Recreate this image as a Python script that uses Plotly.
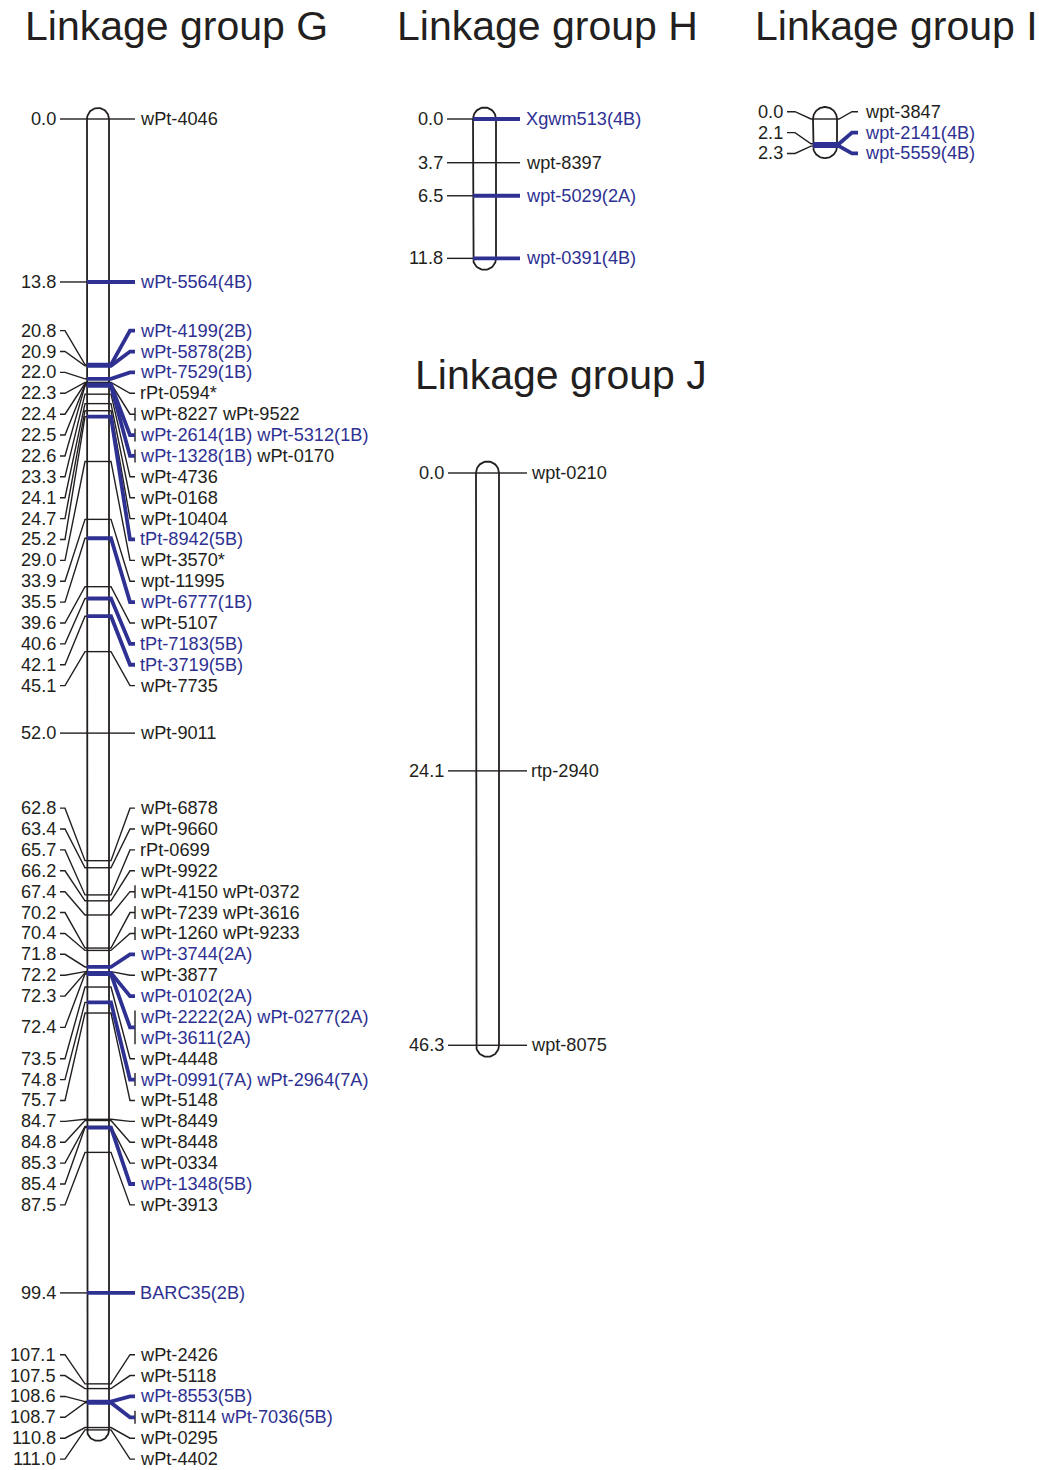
import numpy as np
import plotly.graph_objects as go

# ------------------------------------------------------------------ data
G_pos = [0.0, 13.8, 20.8, 20.9, 22.0, 22.3, 22.4, 22.5, 22.6, 23.3, 24.1, 24.7,
         25.2, 29.0, 33.9, 35.5, 39.6, 40.6, 42.1, 45.1, 52.0, 62.8, 63.4, 65.7,
         66.2, 67.4, 70.2, 70.4, 71.8, 72.2, 72.3, 72.4, 73.5, 74.8, 75.7, 84.7,
         84.8, 85.3, 85.4, 87.5, 99.4, 107.1, 107.5, 108.6, 108.7, 110.8, 111.0]
G_markers = [
    ["wPt-4046"], ["wPt-5564(4B)"], ["wPt-4199(2B)"], ["wPt-5878(2B)"],
    ["wPt-7529(1B)"], ["rPt-0594*"], ["wPt-8227", "wPt-9522"],
    ["wPt-2614(1B)", "wPt-5312(1B)"], ["wPt-1328(1B)", "wPt-0170"],
    ["wPt-4736"], ["wPt-0168"], ["wPt-10404"], ["tPt-8942(5B)"], ["wPt-3570*"],
    ["wpt-11995"], ["wPt-6777(1B)"], ["wPt-5107"], ["tPt-7183(5B)"],
    ["tPt-3719(5B)"], ["wPt-7735"], ["wPt-9011"], ["wPt-6878"], ["wPt-9660"],
    ["rPt-0699"], ["wPt-9922"], ["wPt-4150", "wPt-0372"], ["wPt-7239", "wPt-3616"],
    ["wPt-1260", "wPt-9233"], ["wPt-3744(2A)"], ["wPt-3877"], ["wPt-0102(2A)"],
    ["wPt-2222(2A)", "wPt-0277(2A)", "wPt-3611(2A)"], ["wPt-4448"],
    ["wPt-0991(7A)", "wPt-2964(7A)"], ["wPt-5148"], ["wPt-8449"], ["wPt-8448"],
    ["wPt-0334"], ["wPt-1348(5B)"], ["wPt-3913"], ["BARC35(2B)"], ["wPt-2426"],
    ["wPt-5118"], ["wPt-8553(5B)"], ["wPt-8114", "wPt-7036(5B)"], ["wPt-0295"],
    ["wPt-4402"]]

H_pos = [0.0, 3.7, 6.5, 11.8]
H_markers = [["Xgwm513(4B)"], ["wpt-8397"], ["wpt-5029(2A)"], ["wpt-0391(4B)"]]

I_pos = [0.0, 2.1, 2.3]
I_markers = [["wpt-3847"], ["wpt-2141(4B)"], ["wpt-5559(4B)"]]

J_pos = [0.0, 24.1, 46.3]
J_markers = [["wpt-0210"], ["rtp-2940"], ["wpt-8075"]]

group_titles = ["Linkage group G", "Linkage group H", "Linkage group I", "Linkage group J"]

# ------------------------------------------------------------------ style / layout
W, HGT = 1039, 1470
BLUE = "#2E3192"
BLACK = "#231F20"
FONT = "Liberation Sans, Arial, sans-serif"
ROW_PX = 20.88          # vertical spacing of label rows (pixels)
LABEL_SIZE = 18.2
TITLE_SIZE = 41

AX = {  # y axis: pixel row of 0 cM and pixels per cM
    "y":  dict(zero=119.0, scale=11.81),
    "y2": dict(zero=473.0, scale=12.36),
}

GEOM = {
    "G": dict(ax="y", l0=60, l1=65, l2=85, cl=87, cr=109, r1=111, r2=130, r3=135, tx=141),
    "H": dict(ax="y", l0=447, l1=452, l2=470, cl=473, cr=496, r1=499, r2=515, r3=520, tx=527),
    "I": dict(ax="y", l0=787, l1=795, l2=811, cl=813, cr=837, r1=839, r2=852, r3=858, tx=866),
    "J": dict(ax="y2", l0=448, l1=453, l2=472, cl=476, cr=499, r1=502, r2=522, r3=527, tx=532),
}
TITLE_POS = [(25, 25.7), (397, 25.7), (755, 25.7), (415, 374.5)]


def is_blue(name):
    return "(" in name


def spread_labels(pos, nrows, gap):
    """Label rows pushed apart; each cluster centred on the midpoint of its span."""
    clusters = [[i] for i in range(len(pos))]

    def extent(cl):
        n = sum(nrows[i] for i in cl)
        c = (pos[cl[0]] + pos[cl[-1]]) / 2.0
        s = c - (n - 1) * gap / 2.0
        return s, s + (n - 1) * gap

    while True:
        best, bk = 1e-9, None
        for k in range(len(clusters) - 1):
            a = extent(clusters[k])
            b = extent(clusters[k + 1])
            ov = a[1] + gap - b[0]
            if ov > best:
                best, bk = ov, k
        if bk is None:
            break
        clusters[bk] = clusters[bk] + clusters[bk + 1]
        del clusters[bk + 1]

    rows = [None] * len(pos)
    for cl in clusters:
        s, _ = extent(cl)
        r = 0
        for i in cl:
            rows[i] = [s + (r + j) * gap for j in range(nrows[i])]
            r += nrows[i]
    return rows


fig = go.Figure()
annotations = []


def add_group(key, pos, markers):
    g = GEOM[key]
    ax = AX[g["ax"]]
    scale = ax["scale"]
    gap = ROW_PX / scale
    row_names = [[m[k:k + 2] for k in range(0, len(m), 2)] for m in markers]
    nrows = [len(r) for r in row_names]
    rows = spread_labels(pos, nrows, gap)

    # chromosome outline
    hw = (g["cr"] - g["cl"]) / 2.0
    xc = (g["cr"] + g["cl"]) / 2.0
    ry = hw / scale
    t = np.linspace(0, np.pi, 40)
    y0, y1 = pos[0], pos[-1]
    ox = [g["cl"]] + list(xc - hw * np.cos(t)) + list(xc + hw * np.cos(t))
    oy = [y0] + list(y1 + ry * np.sin(t)) + list(y0 - ry * np.sin(t))
    fig.add_trace(go.Scatter(x=ox, y=oy, mode="lines", yaxis=g["ax"],
                             line=dict(color=BLACK, width=1.8),
                             hoverinfo="skip", showlegend=False))

    bx, by, ux, uy = [], [], [], []
    for i, p in enumerate(pos):
        ly = float(np.mean(rows[i]))
        blue = any(is_blue(m) for m in markers[i])
        # left connector
        bx += [g["l0"], g["l1"], g["l2"], g["cl"], None]
        by += [ly, ly, p, p, None]
        # across chromosome
        bx += [g["cl"], g["cr"], None]
        by += [p, p, None]
        rc_x = [g["cr"], g["r1"], g["r2"], g["r3"]]
        rc_y = [p, p, ly, ly]
        if blue:
            ux += [g["cl"]] + rc_x + [None]
            uy += [p] + rc_y + [None]
        else:
            bx += rc_x + [None]
            by += rc_y + [None]
        if len(markers[i]) > 1:
            ext = 6.5 / scale
            bx += [g["r3"], g["r3"], None]
            by += [rows[i][0] - ext, rows[i][-1] + ext, None]
        # left label (cM)
        annotations.append(dict(x=g["l0"] - 4, y=ly, xref="x", yref=g["ax"],
                                text=f"{p:.1f}", showarrow=False, xanchor="right",
                                yanchor="middle", borderpad=0, borderwidth=0,
                                font=dict(size=LABEL_SIZE, color=BLACK, family=FONT)))
        # right labels
        for r, names in enumerate(row_names[i]):
            parts = []
            for nm in names:
                if is_blue(nm):
                    parts.append(f"<span style='color:{BLUE}'>{nm}</span>")
                else:
                    parts.append(nm)
            annotations.append(dict(x=g["tx"] - 1, y=rows[i][r], xref="x", yref=g["ax"],
                                    text=" ".join(parts), showarrow=False, xanchor="left",
                                    yanchor="middle", borderpad=0, borderwidth=0,
                                    font=dict(size=LABEL_SIZE, color=BLACK, family=FONT)))

    fig.add_trace(go.Scatter(x=bx, y=by, mode="lines", yaxis=g["ax"],
                             line=dict(color=BLACK, width=1.4),
                             hoverinfo="skip", showlegend=False))
    if ux:
        fig.add_trace(go.Scatter(x=ux, y=uy, mode="lines", yaxis=g["ax"],
                                 line=dict(color=BLUE, width=3.8),
                                 hoverinfo="skip", showlegend=False))


add_group("G", G_pos, G_markers)
add_group("H", H_pos, H_markers)
add_group("I", I_pos, I_markers)
add_group("J", J_pos, J_markers)

for (tx, ty), title in zip(TITLE_POS, group_titles):
    annotations.append(dict(x=tx, y=1 - ty / HGT, xref="x", yref="paper",
                            text=title, showarrow=False, xanchor="left", yanchor="middle",
                            borderpad=0, borderwidth=0,
                            font=dict(size=TITLE_SIZE, color=BLACK, family=FONT)))


def yrange(a):
    return [(HGT - a["zero"]) / a["scale"], -a["zero"] / a["scale"]]


fig.update_layout(
    width=W, height=HGT, autosize=False,
    margin=dict(l=0, r=0, t=0, b=0, pad=0),
    paper_bgcolor="white", plot_bgcolor="white",
    xaxis=dict(range=[0, W], visible=False, fixedrange=True, domain=[0, 1]),
    yaxis=dict(range=yrange(AX["y"]), visible=False, fixedrange=True, domain=[0, 1]),
    yaxis2=dict(range=yrange(AX["y2"]), visible=False, fixedrange=True,
                overlaying="y", domain=[0, 1]),
    annotations=annotations,
    showlegend=False,
)

fig.write_html("out.html")
